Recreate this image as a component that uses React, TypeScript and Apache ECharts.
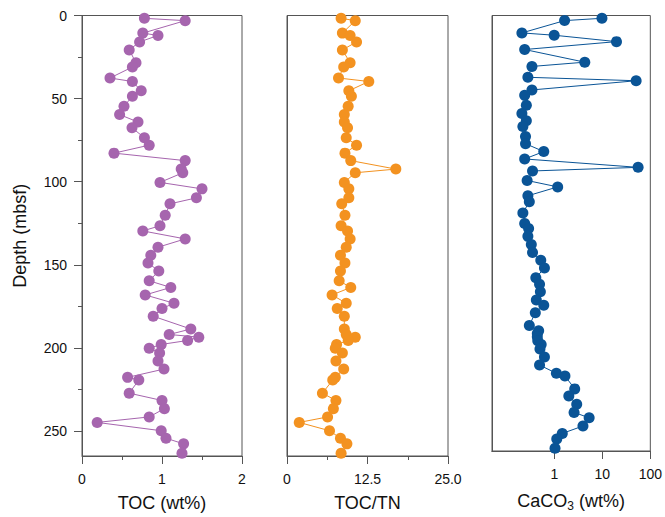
import React, { useEffect, useRef } from "react";
import * as echarts from "echarts";

// Sample depths (mbsf), shared by all three profiles
const depth = [
  1.7, 3.1, 10.6, 12.0, 15.9, 20.7, 28.4, 31.0, 37.6, 39.7,
  45.3, 48.6, 54.6, 59.6, 64.1, 67.5, 73.6, 78.0, 82.8, 87.3,
  92.4, 94.6, 100.4, 104.3, 109.7, 113.3, 120.2, 126.5, 129.6, 134.4,
  139.4, 144.2, 148.9, 153.7, 159.6, 163.6, 168.1, 173.1, 176.3, 180.9,
  188.6, 191.9, 193.5, 195.5, 197.9, 200.2, 203.0, 207.8, 212.7, 217.7,
  219.3, 227.2, 231.6, 236.5, 241.5, 244.8, 249.8, 254.3, 257.7, 263.3,
];

// Total organic carbon (wt%)
const toc = [
  0.78, 1.29, 0.76, 0.95, 0.72, 0.59, 0.675, 0.63, 0.35, 0.63,
  0.74, 0.63, 0.525, 0.47, 0.7, 0.625, 0.78, 0.84, 0.4, 1.29,
  1.24, 1.26, 0.975, 1.5, 1.43, 1.1, 1.04, 0.975, 0.76, 1.29,
  0.95, 0.86, 0.825, 0.96, 0.84, 1.11, 0.79, 1.15, 1.0, 0.89,
  1.36, 1.09, 1.46, 1.32, 0.99, 0.84, 0.97, 0.95, 1.025, 0.57,
  0.71, 0.59, 1.0, 1.03, 0.84, 0.19, 0.99, 1.05, 1.27, 1.25,
];

// TOC / total nitrogen ratio
const tocTn = [
  8.4, 10.6, 8.6, 9.8, 10.8, 8.6, 9.8, 8.8, 8.0, 12.7,
  9.6, 10.0, 9.5, 8.9, 8.9, 9.4, 9.2, 10.8, 9.0, 9.9,
  16.9, 10.6, 8.9, 9.6, 9.6, 8.5, 9.0, 8.4, 9.4, 9.8,
  9.2, 8.3, 9.0, 8.3, 8.1, 9.9, 7.0, 9.2, 7.8, 8.9,
  8.9, 9.2, 10.6, 9.5, 7.7, 7.5, 8.6, 7.6, 8.8, 7.5,
  7.1, 5.5, 7.6, 7.2, 6.3, 1.9, 6.6, 8.3, 9.3, 8.4,
];

// Calcium carbonate (wt%), shown on a log scale
const caco3 = [
  9.8, 1.63, 0.21, 0.99, 19.7, 0.24, 4.3, 0.34, 0.28, 50.6,
  0.34, 0.24, 0.26, 0.21, 0.26, 0.22, 0.25, 0.25, 0.6, 0.24,
  55.6, 0.35, 0.27, 1.17, 0.28, 0.3, 0.22, 0.24, 0.29, 0.28,
  0.33, 0.35, 0.52, 0.62, 0.41, 0.49, 0.51, 0.42, 0.6, 0.4,
  0.3, 0.47, 0.44, 0.44, 0.45, 0.53, 0.5, 0.62, 0.49, 1.1,
  1.66, 2.65, 2.0, 2.92, 2.57, 5.3, 3.94, 1.46, 1.12, 1.03,
];

const depthMajor = [0, 50, 100, 150, 200, 250];
const depthMinor = [25, 75, 125, 175, 225];
const tocMajor = [0, 1, 2];
const tocMinor = [0.5, 1.5];
const ratioMajor = [0, 12.5, 25];
const ratioMinor = [6.25, 18.75];
const caco3Major = [1, 10, 100];

const CACO3_MIN = 0.05;
const CACO3_MAX = 100;
const DEPTH_MAX = 265;

const FONT = "'Liberation Sans', Arial, Helvetica, sans-serif";
const AXIS_COLOR = "#555555";
const TEXT_COLOR = "#111111";

const COLORS = ["#A665AE", "#F39220", "#0A5496"];

export default function App() {
  const ref = useRef<HTMLDivElement>(null);

  useEffect(() => {
    document.body.style.margin = "0";
    if (!ref.current) return;
    const chart = echarts.init(ref.current, null, { renderer: "svg" });

    const top = 15.5;
    const height = 444.5;
    const grids = [
      { left: 82, top, width: 160, height },
      { left: 287, top, width: 161, height },
      { left: 492, top, width: 161, height },
    ].map((g) => ({
      ...g,
      show: true,
      borderColor: AXIS_COLOR,
      borderWidth: 1,
      backgroundColor: "transparent",
      containLabel: false,
    }));

    const labelStyle = {
      fontFamily: FONT,
      fontSize: 14,
      color: TEXT_COLOR,
    };
    const nameStyle = {
      fontFamily: FONT,
      fontSize: 18,
      color: TEXT_COLOR,
    };
    const line = { color: AXIS_COLOR, width: 1 };

    const majorX = (
      gridIndex: number,
      min: number,
      max: number,
      values: number[],
      name: string,
      fmt: (v: number) => string
    ) => ({
      type: "value",
      gridIndex,
      min,
      max,
      position: "bottom",
      name,
      nameLocation: "middle",
      nameGap: 38,
      nameTextStyle: {
        ...nameStyle,
        rich: {
          sub: {
            fontFamily: FONT,
            fontSize: 12,
            color: TEXT_COLOR,
            verticalAlign: "bottom",
            padding: [11, 0, 0, 0],
          },
          base: { fontFamily: FONT, fontSize: 18, color: TEXT_COLOR },
        },
      },
      axisLine: { show: true, onZero: false, lineStyle: line },
      axisTick: {
        show: true,
        inside: false,
        length: 8,
        customValues: values,
        lineStyle: line,
      },
      axisLabel: {
        show: true,
        margin: 16,
        customValues: values,
        formatter: (v: number) => fmt(v),
        ...labelStyle,
      },
      splitLine: { show: false },
    });

    const minorX = (gridIndex: number, min: number, max: number, values: number[]) => ({
      type: "value",
      gridIndex,
      min,
      max,
      position: "bottom",
      axisLine: { show: false, onZero: false },
      axisTick: {
        show: true,
        inside: false,
        length: 4,
        customValues: values,
        lineStyle: line,
      },
      axisLabel: { show: false },
      splitLine: { show: false },
    });

    const xAxis = [
      majorX(0, 0, 2, tocMajor, "TOC (wt%)", (v) => String(v)),
      minorX(0, 0, 2, tocMinor),
      majorX(1, 0, 25, ratioMajor, "TOC/TN", (v) => (v === 0 ? "0" : v.toFixed(1))),
      minorX(1, 0, 25, ratioMinor),
      // logarithmic scale carrying the CaCO3 profile
      {
        type: "log",
        logBase: 10,
        gridIndex: 2,
        min: CACO3_MIN,
        max: CACO3_MAX,
        position: "bottom",
        axisLine: { show: true, onZero: false, lineStyle: line },
        axisTick: { show: false },
        axisLabel: { show: false },
        splitLine: { show: false },
      },
      // decade ticks and labels for the log scale, laid out in log10 units
      majorX(
        2,
        Math.log10(CACO3_MIN),
        Math.log10(CACO3_MAX),
        caco3Major.map((v) => Math.log10(v)),
        "{base|CaCO}{sub|3}{base| (wt%)}",
        (v) => String(Math.round(Math.pow(10, v)))
      ),
    ];

    const depthAxis = (gridIndex: number, extra: object) => ({
      type: "value",
      gridIndex,
      inverse: true,
      min: 0,
      max: DEPTH_MAX,
      position: "left",
      splitLine: { show: false },
      ...extra,
    });

    const yAxis = [
      depthAxis(0, {
        name: "Depth (mbsf)",
        nameLocation: "middle",
        nameGap: 53,
        nameTextStyle: nameStyle,
        axisLine: { show: true, onZero: false, lineStyle: line },
        axisTick: {
          show: true,
          inside: false,
          length: 8,
          customValues: depthMajor,
          lineStyle: line,
        },
        axisLabel: {
          show: true,
          margin: 15,
          customValues: depthMajor,
          ...labelStyle,
        },
      }),
      depthAxis(0, {
        axisLine: { show: false, onZero: false },
        axisTick: {
          show: true,
          inside: false,
          length: 4,
          customValues: depthMinor,
          lineStyle: line,
        },
        axisLabel: { show: false },
      }),
      ...[1, 2].map((gi) =>
        depthAxis(gi, {
          axisLine: { show: true, onZero: false, lineStyle: line },
          axisTick: { show: false },
          axisLabel: { show: false },
        })
      ),
    ];

    const profiles = [
      { name: "TOC", values: toc, xAxisIndex: 0, yAxisIndex: 0 },
      { name: "TOC/TN", values: tocTn, xAxisIndex: 2, yAxisIndex: 2 },
      { name: "CaCO3", values: caco3, xAxisIndex: 4, yAxisIndex: 3 },
    ];

    const series = profiles.map((p, i) => ({
      type: "line",
      name: p.name,
      xAxisIndex: p.xAxisIndex,
      yAxisIndex: p.yAxisIndex,
      data: p.values.map((v, k) => [v, depth[k]]),
      symbol: "circle",
      symbolSize: 11,
      showSymbol: true,
      lineStyle: { color: COLORS[i], width: 1 },
      itemStyle: { color: COLORS[i], borderWidth: 0 },
      clip: false,
    }));

    chart.setOption({
      animation: false,
      backgroundColor: "#ffffff",
      grid: grids,
      xAxis,
      yAxis,
      series,
    });

    return () => chart.dispose();
  }, []);

  return (
    <div
      ref={ref}
      style={{ position: "absolute", left: 0, top: 0, width: 665, height: 517 }}
    />
  );
}
